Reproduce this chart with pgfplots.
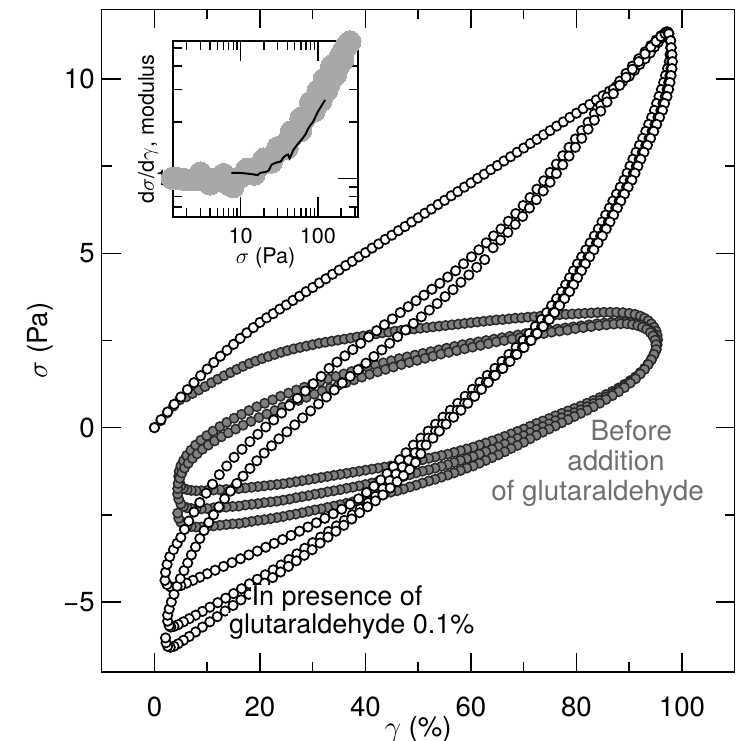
\documentclass[border=0pt]{standalone}
\usepackage{fontspec}
\setmainfont{TeX Gyre Heros}
\usepackage{pgfplots}
\pgfplotsset{compat=1.18}
\usepackage{pgfplotstable}
\definecolor{gfill}{RGB}{128,128,128}
\definecolor{gedge}{RGB}{40,40,40}
\definecolor{gtext}{RGB}{110,110,110}
\definecolor{ingray}{RGB}{168,168,168}
\newcommand\tickfont{\fontsize{13.8}{16}\selectfont}
\newcommand\labfont{\fontsize{13.8}{16}\selectfont}
\newcommand\anfont{\fontsize{13.9}{16}\selectfont}
\newcommand\anbfont{\fontsize{13.5}{16}\selectfont}
\newcommand\insfont{\fontsize{10.8}{13}\selectfont}
\pgfplotsset{
 openm/.style={only marks, mark=*, mark size=2.35pt, mark options={fill=white, draw=black, line width=0.85pt}},
 graym/.style={only marks, mark=*, mark size=2.35pt, mark options={fill=gfill, draw=gedge, line width=0.75pt}},
}
% open circles: unloading, upper part (sigma, x for cycles 1,2,3)
\pgfplotstableread{
s a b c
11.3 97.5 97.5 97.5
11.1 97.8 97.85 97.85
10.9 97.85 97.95 97.95
10.7 97.75 98.05 98.1
10.5 97.6 98.1 98.2
10.3 97.27 97.93 98.1
10.1 96.88 97.72 97.93
9.9 96.52 97.48 97.72
9.7 96.11 97.19 97.46
9.5 95.65 96.85 97.15
9.3 95.2 96.4 96.7
9.1 94.8 96.0 96.3
8.9 94.25 95.45 95.75
8.7 93.7 94.9 95.2
8.5 93.15 94.35 94.65
8.3 92.55 93.75 94.05
8.1 91.95 93.15 93.45
7.9 91.3 92.5 92.8
7.7 90.7 91.9 92.2
7.5 90.15 91.35 91.65
7.3 89.6 90.8 91.1
7.1 89.0 90.2 90.5
6.9 88.3 89.5 89.8
6.7 87.6 88.8 89.1
6.5 86.9 88.1 88.4
6.3 86.25 87.45 87.75
6.1 85.55 86.75 87.05
5.9 84.85 86.05 86.35
5.7 84.15 85.35 85.65
5.5 83.4 84.6 84.9
5.3 82.6 83.8 84.1
5.1 81.8 83.0 83.3
4.9 81.0 82.2 82.5
4.7 80.2 81.4 81.7
4.5 79.45 80.65 80.95
4.3 78.7 79.9 80.2
4.1 77.95 79.15 79.45
3.9 77.2 78.4 78.7
3.7 76.25 77.45 77.75
3.5 75.3 76.5 76.8
3.3 74.35 75.55 75.85
3.1 73.35 74.55 74.85
2.9 72.2 73.4 73.7
2.7 71.05 72.25 72.55
2.5 69.9 71.1 71.4
2.3 68.55 69.75 70.05
2.1 67.2 68.4 68.7
1.9 65.9 67.1 67.4
1.7 64.55 65.75 66.05
1.5 63.1 64.3 64.6
1.3 61.7 62.9 63.3
1.1 60.3 61.5 62.0
0.9 58.9 60.2 60.7
0.7 57.5 58.8 59.4
0.5 56.1 57.4 58.1
0.3 54.7 56.0 56.7
0.1 53.3 54.6 55.3
-0.1 51.9 53.3 54.0
-0.3 50.5 51.9 52.8
-0.5 49.1 50.6 51.5
}\Uup
% grey circles: unloading branches (x, sigma for cycles 1,2,3)
\pgfplotstableread{
x s1 s2 s3
95.1 2.24 2.24 2.24
94.7 2.10 2.10 2.10
94.2 1.96 1.95 1.95
93.6 1.83 1.82 1.81
92.9 1.70 1.68 1.67
92.1 1.58 1.56 1.54
91.2 1.46 1.43 1.40
90.2 1.35 1.31 1.28
89.1 1.24 1.20 1.15
88.0 1.14 1.09 1.03
86.8 1.04 0.98 0.92
85.6 0.95 0.88 0.81
84.4 0.86 0.78 0.70
83.2 0.78 0.69 0.60
82.0 0.70 0.60 0.50
80.8 0.62 0.51 0.41
79.6 0.55 0.43 0.32
78.4 0.48 0.36 0.23
77.2 0.41 0.28 0.14
76.0 0.34 0.20 0.05
74.8 0.26 0.11 -0.04
73.6 0.19 0.03 -0.13
72.4 0.12 -0.05 -0.22
71.2 0.04 -0.14 -0.32
70.0 -0.04 -0.23 -0.42
68.8 -0.11 -0.31 -0.51
67.6 -0.18 -0.39 -0.60
66.4 -0.25 -0.47 -0.69
65.2 -0.32 -0.55 -0.78
64.0 -0.38 -0.62 -0.86
62.8 -0.44 -0.69 -0.94
61.6 -0.50 -0.76 -1.02
60.4 -0.56 -0.83 -1.10
59.2 -0.61 -0.89 -1.16
58.0 -0.66 -0.94 -1.23
56.8 -0.71 -1.00 -1.30
55.6 -0.76 -1.06 -1.36
54.4 -0.80 -1.11 -1.42
53.2 -0.84 -1.16 -1.48
52.0 -0.88 -1.21 -1.53
50.8 -0.92 -1.25 -1.59
49.6 -0.96 -1.30 -1.65
48.4 -1.00 -1.35 -1.70
47.2 -1.04 -1.40 -1.76
46.0 -1.07 -1.44 -1.81
44.8 -1.10 -1.48 -1.85
43.6 -1.13 -1.51 -1.90
42.4 -1.16 -1.55 -1.95
41.2 -1.19 -1.59 -1.99
40.0 -1.22 -1.63 -2.04
38.8 -1.25 -1.67 -2.09
37.6 -1.28 -1.71 -2.13
36.4 -1.31 -1.74 -2.17
35.2 -1.34 -1.78 -2.21
34.0 -1.37 -1.81 -2.25
32.8 -1.40 -1.84 -2.29
31.6 -1.43 -1.88 -2.33
30.4 -1.46 -1.91 -2.36
29.2 -1.49 -1.95 -2.40
28.0 -1.52 -1.98 -2.44
26.8 -1.55 -2.01 -2.48
25.6 -1.58 -2.05 -2.51
24.4 -1.61 -2.08 -2.55
23.2 -1.63 -2.11 -2.58
22.0 -1.65 -2.13 -2.61
20.8 -1.67 -2.15 -2.64
19.6 -1.69 -2.18 -2.66
18.4 -1.71 -2.20 -2.69
17.2 -1.73 -2.22 -2.72
16.0 -1.75 -2.25 -2.75
14.8 -1.76 -2.26 -2.76
13.6 -1.77 -2.28 -2.78
12.4 -1.78 -2.29 -2.80
11.2 -1.79 -2.30 -2.82
10.0 -1.80 -2.32 -2.83
8.9 -1.81 -2.33 -2.85
7.9 -1.81 -2.33 -2.85
7.0 -1.80 -2.32 -2.84
6.2 -1.78 -2.30 -2.82
5.5 -1.74 -2.26 -2.78
5.0 -1.67 -2.19 -2.71
}\GU
\begin{document}
\begin{tikzpicture}
\begin{axis}[
  at={(0pt,0pt)}, anchor=south west,
  scale only axis, width=316.5pt, height=331.2pt,
  xmin=-10, xmax=110, ymin=-7, ymax=12,
  xtick={0,20,40,60,80,100},
  minor xtick={10,30,50,70,90},
  ytick={-5,0,5,10}, yticklabels={−5,0,5,10},
  minor ytick={-2.5,2.5,7.5},
  tick align=inside,
  major tick length=9.5pt, minor tick length=5pt,
  every tick/.style={black, line width=0.8pt},
  axis line style={line width=0.8pt},
  /pgf/number format/assume math mode=true,
  tick label style={font=\tickfont},
  xticklabel style={anchor=base, yshift=-22.5pt},
  xlabel={$\gamma$ (\%)},
  ylabel={$\sigma$ (Pa)},
  label style={font=\labfont},
  xlabel style={at={(axis description cs:0.5,-0.0984)}, anchor=base},
  ylabel style={at={(axis description cs:-0.0975,0.5)}, anchor=center},
]
% ---------- before addition of glutaraldehyde (grey) ----------
\addplot[graym] coordinates {
(0,0) (1.2,0.2) (2.4,0.42) (3.6,0.62) (4.8,0.8) (6,0.88) (7.2,0.98) (8.4,1.08) (9.6,1.18) (10.8,1.29)
(12,1.39) (13.2,1.49) (14.4,1.58) (15.6,1.67) (16.8,1.76) (18,1.84) (19.2,1.91) (20.4,1.98) (21.6,2.04) (22.8,2.1)
(24,2.16) (25.2,2.21) (26.4,2.26) (27.6,2.3) (28.8,2.34) (30,2.38) (31.2,2.42) (32.4,2.45) (33.6,2.48) (34.8,2.51)
(36,2.54) (37.2,2.57) (38.4,2.6) (39.6,2.63) (40.8,2.66) (42,2.69) (43.2,2.72) (44.4,2.74) (45.6,2.77) (46.8,2.79)
(48,2.81) (49.2,2.83) (50.4,2.85) (51.6,2.87) (52.8,2.89) (54,2.91) (55.2,2.93) (56.4,2.95) (57.6,2.97) (58.8,2.99)
(60,3.01) (61.2,3.03) (62.4,3.05) (63.6,3.07) (64.8,3.09) (66,3.1) (67.2,3.12) (68.4,3.14) (69.6,3.15) (70.8,3.17)
(72,3.18) (73.2,3.2) (74.4,3.21) (75.6,3.22) (76.8,3.24) (78,3.25) (79.2,3.26) (80.4,3.27) (81.6,3.28) (82.8,3.29)
(84,3.3) (85.2,3.31) (86.4,3.31) (87.6,3.31) (88.8,3.3) (90,3.28) (91.1,3.25) (92.1,3.2) (92.9,3.14) (93.6,3.07)
(94.2,2.98) (94.7,2.88) (95.1,2.77) (95.3,2.65) (95.4,2.52) (95.3,2.38)
};
\addplot[graym] table[x=x,y=s1]{\GU};
\addplot[graym] coordinates {
(4.7,-1.55) (4.6,-1.4) (4.7,-1.25) (5.0,-1.1) (5.5,-0.95) (6.1,-0.8) (6.9,-0.65) (7.8,-0.5) (8.8,-0.36) (9.9,-0.23)
(11.1,-0.1) (12.4,0.03) (13.7,0.15) (15.1,0.27) (16.5,0.38) (17.9,0.49) (19.4,0.6) (20.9,0.7) (22.4,0.8) (23.9,0.9)
(25.4,0.99) (26.9,1.08) (28.4,1.16) (29.9,1.24) (31.4,1.32) (32.9,1.4) (34.4,1.47) (35.9,1.54) (37.4,1.61) (38.9,1.68)
(40.4,1.74) (41.9,1.8) (43.4,1.86) (44.9,1.92) (46.4,1.98) (47.9,2.03) (49.4,2.08) (50.9,2.13) (52.4,2.18) (53.9,2.23)
(55.4,2.28) (56.9,2.33) (58.4,2.38) (59.9,2.42) (61.4,2.46) (62.9,2.5) (64.4,2.54) (65.9,2.58) (67.4,2.62) (68.9,2.66)
(70.4,2.7) (71.9,2.74) (73.4,2.77) (74.9,2.8) (76.4,2.83) (77.9,2.86) (79.4,2.89) (80.9,2.92) (82.4,2.95) (83.9,2.98)
(85.3,3.0) (86.7,3.02) (88,3.03) (89.2,3.03) (90.3,3.02) (91.3,2.99) (92.2,2.95) (93,2.89) (93.7,2.82) (94.3,2.73)
(94.7,2.63) (95,2.51) (95.1,2.38)
};
\addplot[graym] table[x=x,y=s2]{\GU};
\addplot[graym] coordinates {
(4.6,-2.05) (4.4,-1.9) (4.4,-1.75) (4.5,-1.6) (4.8,-1.45) (5.2,-1.3) (5.7,-1.16) (6.4,-1.02) (7.2,-0.88) (8.1,-0.75)
(9.1,-0.62) (10.2,-0.5) (11.4,-0.38) (12.7,-0.26) (14.0,-0.15) (15.4,-0.04) (16.8,0.07) (18.3,0.18) (19.8,0.29) (21.3,0.39)
(22.8,0.49) (24.3,0.59) (25.8,0.69) (27.3,0.78) (28.8,0.87) (30.3,0.96) (31.8,1.05) (33.3,1.13) (34.8,1.21) (36.3,1.29)
(37.8,1.37) (39.3,1.45) (40.8,1.53) (42.3,1.6) (43.8,1.67) (45.3,1.74) (46.8,1.81) (48.3,1.87) (49.8,1.93) (51.3,1.99)
(52.8,2.05) (54.3,2.11) (55.8,2.16) (57.3,2.21) (58.8,2.26) (60.3,2.31) (61.8,2.36) (63.3,2.41) (64.8,2.46) (66.3,2.5)
(67.8,2.54) (69.3,2.58) (70.8,2.62) (72.3,2.66) (73.8,2.7) (75.3,2.74) (76.8,2.77) (78.3,2.8) (79.8,2.84) (81.3,2.87)
(82.8,2.9) (84.3,2.93) (85.7,2.95) (87.1,2.97) (88.4,2.98) (89.6,2.98) (90.6,2.96) (91.6,2.93) (92.5,2.88) (93.3,2.82)
(94,2.73) (94.5,2.63) (94.9,2.51) (95.1,2.38)
};
\addplot[graym] table[x=x,y=s3]{\GU};
\addplot[graym] coordinates {(4.6,-2.6) (4.4,-2.45)};
% ---------- in presence of glutaraldehyde (open) ----------
\addplot[openm] coordinates {
(0,0) (1.25,0.23) (2.5,0.45) (3.75,0.67) (5,0.88) (6.25,1.09) (7.5,1.29) (8.75,1.49) (10,1.68) (11.25,1.87)
(12.5,2.05) (13.75,2.22) (15,2.39) (16.25,2.56) (17.5,2.72) (18.75,2.87) (20,3.02) (21.25,3.15) (22.5,3.27) (23.75,3.40)
(25,3.52) (26.25,3.65) (27.5,3.77) (28.75,3.90) (30,4.02) (31.25,4.15) (32.5,4.27) (33.75,4.40) (35,4.52) (36.25,4.65)
(37.5,4.77) (38.75,4.90) (40,5.02) (41.25,5.15) (42.5,5.27) (43.75,5.40) (45,5.52) (46.25,5.65) (47.5,5.77) (48.75,5.90)
(50,6.02) (51.25,6.15) (52.5,6.27) (53.75,6.40) (55,6.52) (56.25,6.65) (57.5,6.77) (58.75,6.90) (60,7.02) (61.25,7.15)
(62.5,7.27) (63.75,7.40) (65,7.52) (66.25,7.65) (67.5,7.77) (68.75,7.90) (70,8.02) (71.25,8.15) (72.5,8.27) (73.75,8.40)
(75,8.52) (76.25,8.65) (77.5,8.77) (78.75,8.90) (80,9.02) (81.25,9.15) (82.5,9.27) (83.75,9.40) (85,9.52) (86.25,9.65)
(87.5,9.78) (88.75,9.93) (90,10.08) (91,10.25) (92,10.42) (93,10.58) (94,10.75) (94.8,10.92) (95.5,11.05) (96.1,11.18)
(96.6,11.27) (97,11.35)
};
\addplot[openm] table[x=a,y=s]{\Uup};
\addplot[openm] coordinates {
(47.7,-0.72) (46.5,-0.92) (45.3,-1.12) (44.1,-1.32) (42.9,-1.5) (41.6,-1.68) (40.2,-1.86) (38.7,-2.04) (37.1,-2.2) (35.5,-2.34)
(33.9,-2.47) (32.3,-2.6) (30.7,-2.73) (29.1,-2.85) (27.5,-2.97) (25.9,-3.09) (24.3,-3.21) (22.7,-3.32) (21.1,-3.43) (19.5,-3.54)
(17.9,-3.65) (16.3,-3.76) (14.7,-3.87) (13.1,-3.98) (11.5,-4.09) (10,-4.19) (8.6,-4.29) (7.3,-4.38) (6.1,-4.46) (5,-4.53)
(4,-4.57) (3.1,-4.57) (2.4,-4.5) (2.0,-4.38)
};
\addplot[openm] coordinates {
(2.1,-4.15) (2.4,-3.92) (2.9,-3.7) (3.6,-3.5) (4.3,-3.32) (5.0,-3.15) (5.7,-2.92) (6.5,-2.68) (7.5,-2.42) (8.6,-2.15)
(9.8,-1.88) (11.0,-1.62) (12.3,-1.35) (13.7,-1.1) (15.1,-0.85) (16.6,-0.62) (18.1,-0.4) (19.6,-0.19) (21.1,0.02) (22.6,0.22)
(24.1,0.42) (25.6,0.63) (27.1,0.84) (28.6,1.05) (30.1,1.26) (31.6,1.47) (33.1,1.7) (34.6,1.88) (36.1,2.06) (37.6,2.24)
(39.1,2.42) (40.6,2.6) (42.1,2.78) (43.6,2.95) (45.1,3.12) (46.6,3.3) (48.1,3.47) (49.6,3.64) (51.1,3.8) (52.6,3.97)
(54.1,4.14) (55.6,4.32) (57.1,4.5) (58.6,4.7) (60.1,4.9) (61.5,5.1) (62.9,5.3) (64.3,5.5) (65.7,5.7) (67.1,5.92)
(68.5,6.14) (69.9,6.37) (71.2,6.6) (72.5,6.84) (73.8,7.08) (75.0,7.32) (76.2,7.56) (77.4,7.8) (78.6,8.04) (79.8,8.28)
(81.0,8.52) (82.2,8.76) (83.4,9.0) (84.6,9.24) (85.8,9.48) (87.0,9.71) (88.2,9.94) (89.4,10.16) (90.6,10.37) (91.8,10.58)
(93.0,10.78) (94.1,10.96) (95.1,11.12) (96.0,11.24) (96.8,11.32) (97.3,11.35)
};
\addplot[openm] table[x=b,y=s]{\Uup};
\addplot[openm] coordinates {
(49.4,-0.72) (48.2,-0.93) (47.0,-1.13) (45.8,-1.33) (44.6,-1.52) (43.3,-1.75) (41.9,-1.97) (40.5,-2.15) (39.0,-2.33) (37.5,-2.5)
(36.0,-2.66) (34.5,-2.82) (33.0,-2.98) (31.5,-3.14) (30.0,-3.3) (28.5,-3.46) (27.0,-3.62) (25.5,-3.78) (24.0,-3.94) (22.5,-4.08)
(21.0,-4.22) (19.5,-4.35) (18.0,-4.48) (16.5,-4.62) (15.0,-4.76) (13.5,-4.89) (12.0,-5.02) (10.5,-5.15) (9.1,-5.27) (7.8,-5.38)
(6.6,-5.48) (5.5,-5.57) (4.5,-5.65) (3.7,-5.7) (3.1,-5.72)
};
\addplot[openm] coordinates {
(2.8,-5.68) (2.5,-5.55) (2.5,-5.38) (2.8,-5.2) (3.2,-5.0) (3.7,-4.78) (4.3,-4.55) (4.9,-4.33) (5.6,-4.1) (6.3,-3.88)
(7.0,-3.65) (7.8,-3.42) (8.6,-3.18) (9.4,-2.95) (10.3,-2.72) (11.2,-2.5) (12.2,-2.27) (13.3,-2.04) (14.4,-1.82) (15.6,-1.6)
(16.8,-1.39) (18.1,-1.17) (19.4,-0.95) (20.8,-0.73) (22.2,-0.52) (23.6,-0.32) (25.1,-0.12) (26.6,0.08) (28.1,0.28) (29.6,0.48)
(31.1,0.68) (32.6,0.88) (34.1,1.08) (35.6,1.28) (37.1,1.47) (38.6,1.66) (40.1,1.85) (41.6,2.04) (43.1,2.23) (44.6,2.42)
(46.1,2.61) (47.6,2.8) (49.1,2.99) (50.6,3.18) (52.1,3.37) (53.6,3.56) (55.1,3.76) (56.6,3.96) (58.1,4.17) (59.6,4.38)
(61.1,4.6) (62.6,4.82) (64.2,5.16) (65.6,5.38) (67.0,5.6) (68.4,5.83) (69.8,6.06) (71.1,6.3) (72.4,6.54) (73.7,6.79)
(75.0,7.04) (76.2,7.29) (77.4,7.54) (78.6,7.79) (79.8,8.04) (81.0,8.3) (82.2,8.56) (83.4,8.82) (84.6,9.08) (85.8,9.34)
(87.0,9.58) (88.2,9.82) (89.4,10.05) (90.6,10.28) (91.8,10.5) (93.0,10.72) (94.1,10.92) (95.1,11.08) (96.0,11.22) (96.8,11.3)
(97.3,11.34)
};
\addplot[openm] table[x=c,y=s]{\Uup};
\addplot[openm] coordinates {
(50.5,-0.75) (49.5,-1.0) (48.4,-1.2) (47.2,-1.38) (46.0,-1.55) (44.7,-1.73) (43.3,-1.93) (41.9,-2.1) (40.4,-2.27) (38.9,-2.44)
(37.4,-2.62) (35.9,-2.8) (34.4,-2.97) (32.9,-3.14) (31.4,-3.31) (29.9,-3.5) (28.4,-3.66) (26.9,-3.82) (25.4,-3.98) (23.9,-4.14)
(22.4,-4.3) (20.9,-4.46) (19.4,-4.62) (17.9,-4.78) (16.4,-4.94) (14.9,-5.1) (13.4,-5.26) (11.9,-5.42) (10.5,-5.57) (9.1,-5.72)
(7.8,-5.86) (6.6,-5.99) (5.5,-6.1) (4.5,-6.2) (3.7,-6.27) (3.0,-6.3) (2.5,-6.27) (2.2,-6.17) (2.1,-6.03)
};
% anchor points for the annotations (drawn after the axis, on top of the marks)
\coordinate (tb1) at (axis cs:90.4,-0.36);
\coordinate (tb2) at (axis cs:87.5,-1.22);
\coordinate (tb3) at (axis cs:84.0,-2.08);
\coordinate (tp1) at (axis cs:34.6,-5.09);
\coordinate (tp2) at (axis cs:37.4,-5.91);
\end{axis}
\node[font=\anfont, text=gtext, anchor=base] at (tb1) {Before};
\node[font=\anfont, text=gtext, anchor=base] at (tb2) {addition};
\node[font=\anfont, text=gtext, anchor=base] at (tb3) {of glutaraldehyde};
\node[font=\anbfont, anchor=base, fill=white, inner sep=0.3pt] at (tp1) {In presence of};
\node[font=\anbfont, anchor=base, fill=white, inner sep=0.3pt] at (tp2) {glutaraldehyde 0.1\%};
% ---------- inset ----------
\begin{axis}[
  at={(35.65pt,227.35pt)}, anchor=south west,
  scale only axis, width=92.5pt, height=88pt,
  set layers,
  xmode=log, ymode=log,
  xmin=1.33, xmax=330, ymin=0.62, ymax=5.45,
  xtick={10,100}, xticklabels={10,100},
  ytick={1}, yticklabels={1},
  minor xtick={2,3,4,5,6,7,8,9,20,30,40,50,60,70,80,90,200,300},
  minor ytick={0.7,0.8,0.9,2,3,4,5},
  tick align=inside, major tick length=10pt, minor tick length=4.5pt,
  every tick/.style={black, line width=0.7pt},
  axis line style={line width=0.8pt},
  tick label style={font=\insfont},
  xticklabel style={anchor=base, yshift=-13.3pt},
  yticklabel style={inner sep=0pt, xshift=-2.5pt},
  xlabel={$\sigma$ (Pa)}, ylabel={d$\sigma$/d$\gamma$, modulus},
  label style={font=\insfont},
  xlabel style={at={(axis description cs:0.5,-0.267)}, anchor=base},
  ylabel style={at={(axis description cs:-0.135,0.5)}, anchor=center},
  axis background/.style={fill=white},
  clip=false,
]
\addplot[ingray, only marks, mark=*, mark size=5.5pt, mark options={fill=ingray, draw=ingray, line width=0pt}] coordinates {
(1.3,1.0) (1.5,1.0) (1.75,0.99) (2.0,0.98) (2.3,0.98) (2.7,0.98) (3.1,0.99) (3.6,0.99) (4.2,0.99) (4.9,0.98)
(5.6,0.97) (6.4,0.95) (7.2,0.92) (8.0,0.95) (9.0,0.99) (10,1.02) (11.5,1.05) (13,1.08) (15,1.12) (17,1.16)
(19.5,1.2) (22,1.25) (25,1.3) (28.5,1.36) (32,1.43) (36,1.5) (41,1.59) (46,1.69) (52,1.8) (58,1.92)
(65,2.05) (72,2.18) (80,2.32) (88,2.47) (97,2.63) (107,2.8) (118,3.0) (130,3.22) (142,3.45) (155,3.7)
(170,3.98) (185,4.28) (200,4.58) (218,4.9) (237,5.2) (260,5.4)
(3,1.07) (6,1.05) (12,1.12) (20,1.27) (30,1.46) (45,1.78) (60,2.1) (80,2.55) (100,2.95) (120,3.4) (150,4.0)
(4,0.93) (8,0.9) (15,1.05) (25,1.22) (40,1.45) (60,1.8) (90,2.3) (130,2.95) (170,3.6) (210,4.3)
(110,2.6) (140,3.2) (160,3.5) (180,3.9) (190,4.45) (228,5.0) (250,5.3)
};
\addplot[black, line width=1pt, mark=none, on layer=axis foreground] coordinates {
(7.6,1.07) (9.5,1.07) (12,1.06) (14.5,1.05) (16.5,1.04) (18,1.07) (21,1.08) (23,1.1) (25,1.18) (27,1.2)
(30,1.22) (33,1.23) (36,1.3) (39,1.33) (41,1.34) (43,1.28) (45,1.33) (48,1.42) (55,1.53) (62,1.62)
(69,1.72) (75,1.85) (80,1.93) (86,2.0) (92,2.12) (100,2.28) (108,2.4) (116,2.52) (124,2.63)
};
\end{axis}
\pgfresetboundingbox
\path[use as bounding box] (-50.85pt,-34.65pt) rectangle (318.15pt,335.85pt);
\end{tikzpicture}
\end{document}
